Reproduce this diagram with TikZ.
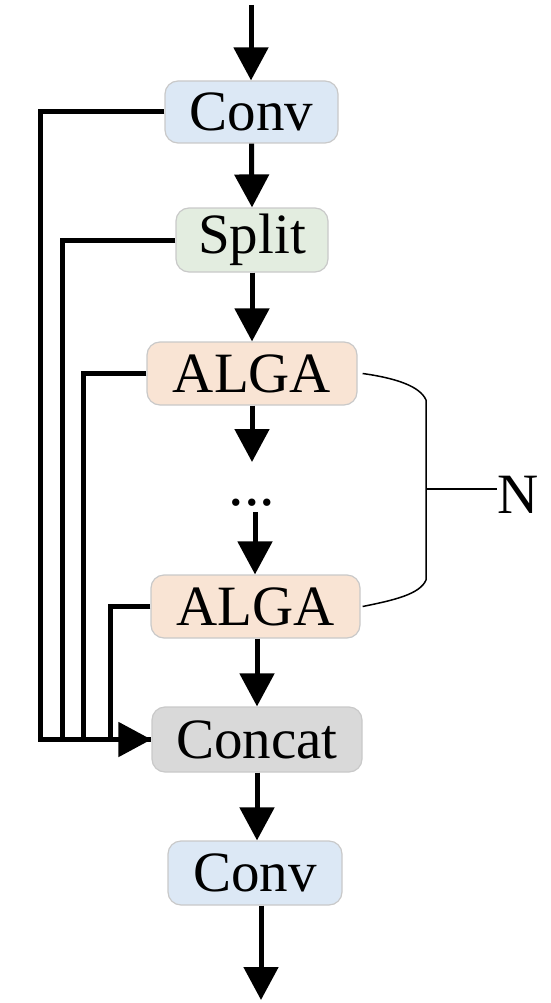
\documentclass[tikz,border=0pt]{standalone}
\usepackage{fontspec}
\setmainfont{Liberation Serif}
\usetikzlibrary{arrows.meta}
\definecolor{convblue}{HTML}{DCE8F5}
\definecolor{splitgreen}{HTML}{E3EDE0}
\definecolor{algapeach}{HTML}{F9E4D4}
\definecolor{concatgray}{HTML}{D9D9D9}
\definecolor{boxborder}{HTML}{C9C9C9}
\tikzset{
  blk/.style={draw=boxborder, line width=1.2pt, rounded corners=13pt, inner sep=0pt,
    font=\fontsize{57}{60}\selectfont, text=black},
  flow/.style={line width=5pt, -{Triangle[length=33pt,width=34pt]}},
  skip/.style={line width=5pt},
  thin/.style={line width=1.5pt},
}
\begin{document}
\begin{tikzpicture}[x=1pt,y=-1pt]
\useasboundingbox (0,0) rectangle (550,1003);
\node[blk, fill=convblue, minimum width=173pt, minimum height=62pt] (conv1) at (251.5,112) {Conv};
\node[blk, fill=splitgreen, minimum width=152pt, minimum height=64pt] (split) at (252,240) {Split};
\node[blk, fill=algapeach, minimum width=210pt, minimum height=63pt] (alga1) at (252,373.5) {ALGA};
\node[blk, fill=algapeach, minimum width=209pt, minimum height=63pt] (alga2) at (255.5,606.5) {ALGA};
\node[blk, fill=concatgray, minimum width=210pt, minimum height=65pt] (concat) at (257,739.5) {Concat};
\node[blk, fill=convblue, minimum width=174pt, minimum height=64pt] (conv2) at (255,873) {Conv};
\node[inner sep=0pt, anchor=base, font=\fontsize{62}{62}\selectfont] (dots) at (252,505) {...};
\node[inner sep=0pt, anchor=base west, font=\fontsize{57}{60}\selectfont] (nlabel) at (497,513) {N};
\coordinate (top) at (251,5);
\coordinate (a1end) at (252,462);
\coordinate (dotsend) at (255,512);
\coordinate (bot) at (261,1000);
% main flow
\draw[flow] (top) -- (conv1.north -| top);
\draw[flow] (conv1.south) -- (split.north);
\draw[flow] (split.south) -- (alga1.north);
\draw[flow] (alga1.south) -- (a1end);
\draw[flow] (dotsend) -- (alga2.north -| dotsend);
\draw[flow] (alga2.south -| concat.north) -- (concat.north);
\draw[flow] (concat.south) -- (conv2.north -| concat.south);
\draw[flow] (conv2.south -| bot) -- (bot);
% skip connections
\draw[skip] (conv1.west) -| (40,739.5) -- (concat.west);
\draw[flow] (40,739.5) -- (concat.west);
\draw[skip] (split.west) -| (62,739.5);
\draw[skip] (alga1.west) -| (83,739.5);
\draw[skip] (alga2.west) -| (110,739.5);
% bracket
\draw[thin] ([xshift=5pt]alga1.east) .. controls (395,378) and (420,386) .. (426,400)
  -- (426,580) .. controls (420,594) and (395,600) .. ([xshift=2pt]alga2.east);
\draw[thin] (426,489) -- (nlabel.west |- 426,489);
\end{tikzpicture}
\end{document}
